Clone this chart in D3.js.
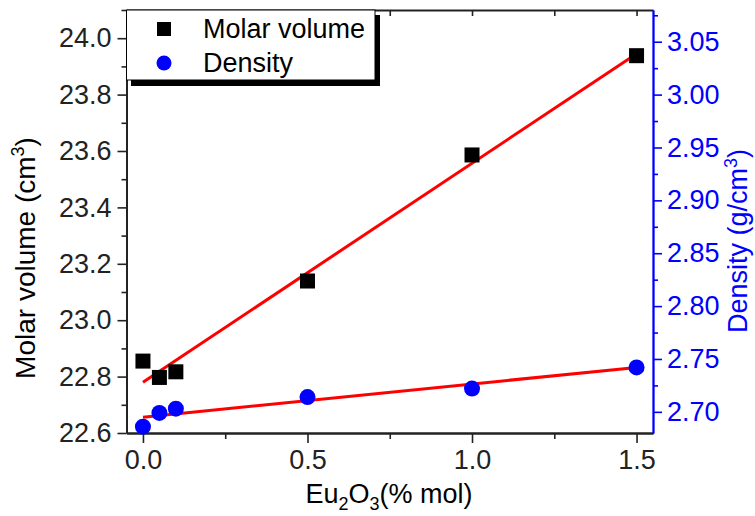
<!DOCTYPE html>
<html>
<head>
<meta charset="utf-8">
<script src="https://cdn.jsdelivr.net/npm/d3@7"></script>
<style>
  html, body { margin: 0; padding: 0; background: #fff; }
  svg { display: block; font-family: "Liberation Sans", Arial, sans-serif; }
</style>
</head>
<body>
<svg id="chart" width="755" height="516"></svg>
<script>
// Data
const eu2o3 = [0, 0.05, 0.1, 0.5, 1.0, 1.5];
const molarVolume = [22.855, 22.797, 22.817, 23.139, 23.586, 23.938];
const density = [2.686, 2.699, 2.703, 2.714, 2.722, 2.742];

// fitted lines (end points)
const fitX = [0, 1.5];
const fitMolar = [22.78, 23.945];
const fitDensity = [2.695, 2.742];

const xTicks = [0, 0.5, 1.0, 1.5];
const leftTicks = [22.6, 22.8, 23.0, 23.2, 23.4, 23.6, 23.8, 24.0];
const rightTicks = [2.70, 2.75, 2.80, 2.85, 2.90, 2.95, 3.00, 3.05];

const legendLabels = ["Molar volume", "Density"];

const config = {
    left: 126.5, right: 653, top: 10, bottom: 433,
    fontSize: 27,
    blue: "#0000ff", red: "#ff0000", axis: "#222"
};

const svg = d3.select("#chart");

// scales
const x = d3.scaleLinear().domain([-0.05, 1.55]).range([config.left, config.right]);
const yL = d3.scaleLinear().domain([22.6, 24.1]).range([config.bottom, config.top]);
const yR = d3.scaleLinear().domain([2.68, 3.08]).range([config.bottom, config.top]);

// minor ticks
const xMinor = d3.range(0.25, 1.5, 0.5);
const leftMinor = d3.range(22.7, 24.11, 0.2);
const rightMinor = d3.range(2.725, 3.08, 0.05);

function styleAxis(g, color) {
    g.select(".domain").attr("stroke", color).attr("stroke-width", 1.8);
    g.selectAll(".tick line").attr("stroke", color).attr("stroke-width", 1.6);
    g.selectAll("text").attr("fill", color).style("font-size", config.fontSize + "px")
        .style("font-family", "'Liberation Sans', Arial, sans-serif");
}

// bottom axis
svg.append("g")
    .attr("transform", `translate(0, ${config.bottom})`)
    .call(d3.axisBottom(x).tickValues(xMinor).tickSize(6).tickFormat("").tickSizeOuter(0))
    .call(g => styleAxis(g, config.axis));
svg.append("g")
    .attr("transform", `translate(0, ${config.bottom})`)
    .call(d3.axisBottom(x).tickValues(xTicks).tickSize(10).tickPadding(7).tickFormat(d3.format(".1f")).tickSizeOuter(0))
    .call(g => styleAxis(g, config.axis));

// top axis (inward ticks)
svg.append("g")
    .attr("transform", `translate(0, ${config.top})`)
    .call(d3.axisBottom(x).tickValues(xTicks.concat(xMinor)).tickSize(6).tickFormat("").tickSizeOuter(0))
    .call(g => styleAxis(g, config.axis));

// left axis
svg.append("g")
    .attr("transform", `translate(${config.left}, 0)`)
    .call(d3.axisLeft(yL).tickValues(leftMinor).tickSize(5).tickFormat("").tickSizeOuter(0))
    .call(g => styleAxis(g, config.axis));
svg.append("g")
    .attr("transform", `translate(${config.left}, 0)`)
    .call(d3.axisLeft(yL).tickValues(leftTicks).tickSize(9).tickPadding(6).tickFormat(d3.format(".1f")).tickSizeOuter(0))
    .call(g => styleAxis(g, config.axis));

// right axis (blue)
svg.append("g")
    .attr("transform", `translate(${config.right}, 0)`)
    .call(d3.axisRight(yR).tickValues(rightMinor).tickSize(5).tickFormat("").tickSizeOuter(0))
    .call(g => styleAxis(g, config.blue));
svg.append("g")
    .attr("transform", `translate(${config.right}, 0)`)
    .call(d3.axisRight(yR).tickValues(rightTicks).tickSize(9).tickPadding(5).tickFormat(d3.format(".2f")).tickSizeOuter(0))
    .call(g => styleAxis(g, config.blue));

// fit lines
const lineL = d3.line().x((d, i) => x(fitX[i])).y(d => yL(d));
const lineR = d3.line().x((d, i) => x(fitX[i])).y(d => yR(d));
svg.append("path").datum(fitMolar).attr("d", lineL)
    .attr("fill", "none").attr("stroke", config.red).attr("stroke-width", 3);
svg.append("path").datum(fitDensity).attr("d", lineR)
    .attr("fill", "none").attr("stroke", config.red).attr("stroke-width", 3);

// points
const sq = 15;
svg.append("g").selectAll("rect")
    .data(molarVolume)
    .join("rect")
    .attr("x", (d, i) => x(eu2o3[i]) - sq / 2)
    .attr("y", d => yL(d) - sq / 2)
    .attr("width", sq).attr("height", sq)
    .attr("fill", "#000");

svg.append("g").selectAll("circle")
    .data(density)
    .join("circle")
    .attr("cx", (d, i) => x(eu2o3[i]))
    .attr("cy", d => yR(d))
    .attr("r", 8)
    .attr("fill", config.blue);

// legend
const lg = svg.append("g");
lg.append("rect").attr("x", 131).attr("y", 15).attr("width", 249).attr("height", 71).attr("fill", "#000");
lg.append("rect").attr("x", 126.5).attr("y", 10).attr("width", 248.5).attr("height", 70)
    .attr("fill", "#fff").attr("stroke", "#000").attr("stroke-width", 1);
lg.append("rect").attr("x", 157).attr("y", 22).attr("width", 14).attr("height", 14).attr("fill", "#000");
lg.append("circle").attr("cx", 164).attr("cy", 63).attr("r", 7.5).attr("fill", config.blue);
lg.selectAll("text")
    .data(legendLabels)
    .join("text")
    .attr("x", 203)
    .attr("y", (d, i) => 38 + i * 33.5)
    .attr("font-size", config.fontSize)
    .attr("fill", "#000")
    .text(d => d);

// axis titles
const xt = svg.append("text")
    .attr("x", 389).attr("y", 503)
    .attr("text-anchor", "middle")
    .attr("font-size", config.fontSize)
    .attr("fill", "#000");
xt.append("tspan").text("Eu");
xt.append("tspan").text("2").attr("dy", 7).attr("font-size", 18);
xt.append("tspan").text("O").attr("dy", -7);
xt.append("tspan").text("3").attr("dy", 7).attr("font-size", 18);
xt.append("tspan").text("(% mol)").attr("dy", -7);

const yt = svg.append("text")
    .attr("transform", "translate(35, 258) rotate(-90)")
    .attr("text-anchor", "middle")
    .attr("font-size", 28)
    .attr("fill", "#000");
yt.append("tspan").text("Molar volume (cm");
yt.append("tspan").text("3").attr("dy", -11).attr("font-size", 18);
yt.append("tspan").text(")").attr("dy", 11);

const rt = svg.append("text")
    .attr("transform", "translate(747, 241) rotate(-90)")
    .attr("text-anchor", "middle")
    .attr("font-size", config.fontSize)
    .attr("fill", config.blue);
rt.append("tspan").text("Density (g/cm");
rt.append("tspan").text("3").attr("dy", -10).attr("font-size", 18);
rt.append("tspan").text(")").attr("dy", 10);
</script>
</body>
</html>
